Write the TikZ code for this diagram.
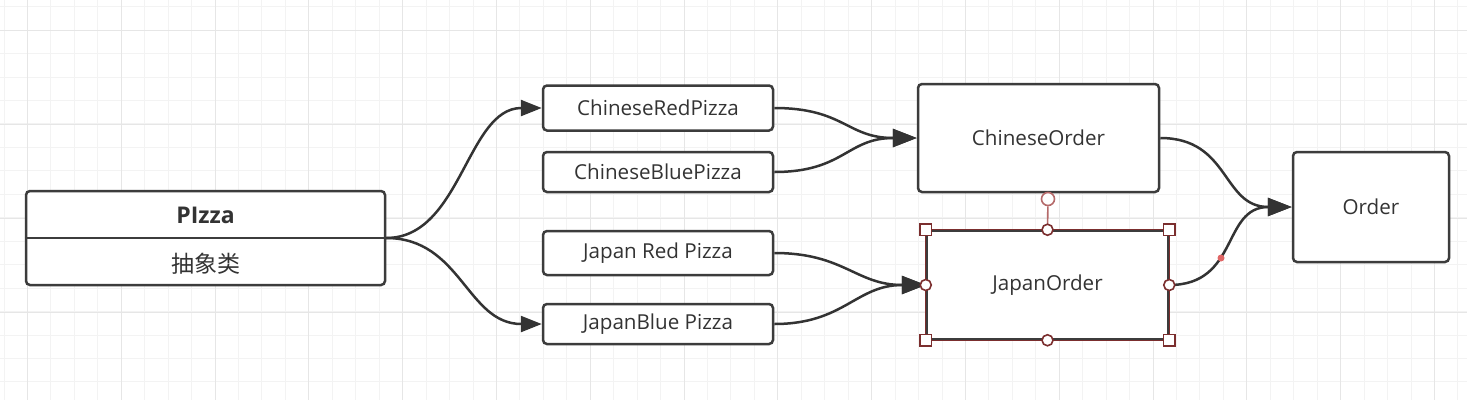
\documentclass[tikz,border=0pt]{standalone}
\usepackage{fontspec}
\setmainfont{Open Sans}
\newfontfamily\cjk{Noto Sans CJK SC}
\usetikzlibrary{arrows.meta}
\definecolor{boxline}{HTML}{3C3C3C}
\definecolor{txt}{HTML}{333333}
\definecolor{gridminor}{HTML}{F3F3F3}
\definecolor{gridmajor}{HTML}{E6E6E6}
\definecolor{handle}{HTML}{7B2E2E}
\definecolor{rothandle}{HTML}{B56A6A}
\definecolor{reddot}{HTML}{E06666}
\begin{document}
\begin{tikzpicture}
  [x=1pt,y=-1pt,
   box/.style={draw=boxline,line width=2.5pt,rounded corners=4pt,fill=white,
     inner sep=0pt,text=txt,font=\fontsize{20.6}{24}\selectfont},
   label/.style={inner sep=0pt,text=txt},
   edge/.style={draw=txt,line width=2.5pt,-{Triangle[length=24pt,width=18pt]}},
   handlesq/.style={draw=handle,fill=white,line width=1.6pt,minimum size=11.5pt,inner sep=0pt},
   handledot/.style={circle,draw=handle,fill=white,line width=1.6pt,minimum size=11pt,inner sep=0pt}]
  \useasboundingbox (0,0) rectangle (1467,400);
  \fill[white] (0,0) rectangle (1467,400);
  % grid
  \foreach \i in {0,...,62}
    \draw[gridminor,line width=1pt] ({4+23.45*\i},0) -- ({4+23.45*\i},400);
  \foreach \j in {0,...,16}
    \draw[gridminor,line width=1pt] (0,{6.7+23.45*\j}) -- (1467,{6.7+23.45*\j});
  \foreach \i in {0,...,15}
    \draw[gridmajor,line width=1pt] ({27.4+93.8*\i},0) -- ({27.4+93.8*\i},400);
  \foreach \j in {0,...,3}
    \draw[gridmajor,line width=1pt] (0,{30.7+93.8*\j}) -- (1467,{30.7+93.8*\j});

  \node[box,minimum width=359pt,minimum height=94pt] (pizza) at (205.5,238) {};
  \draw[boxline,line width=2.5pt] (pizza.west) -- (pizza.east);
  \node[label,font=\fontsize{23}{26}\selectfont\bfseries] (pizzaname) at (205.5,215) {PIzza};
  \node[label,font=\cjk\fontsize{23}{26}\selectfont] (pizzakind) at (205.5,264) {抽象类};

  \node[box,minimum width=230pt,minimum height=45pt] (crp) at (658,108) {ChineseRedPizza};
  \node[box,minimum width=230pt,minimum height=40pt] (cbp) at (658,172) {ChineseBluePizza};
  \node[box,minimum width=230pt,minimum height=44pt] (jrp) at (658,253) {Japan Red Pizza};
  \node[box,minimum width=230pt,minimum height=40pt] (jbp) at (658,324) {JapanBlue Pizza};

  \node[box,minimum width=241pt,minimum height=108pt] (chorder) at (1038.5,138) {ChineseOrder};
  \node[box,rounded corners=0pt,minimum width=241pt,minimum height=108pt] (jporder) at (1047.5,285) {JapanOrder};
  \node[box,minimum width=156pt,minimum height=110pt] (order) at (1371,207) {Order};

  \foreach \from/\to in {pizza/crp,pizza/jbp}
    \draw[edge,-{Triangle[length=21pt,width=16pt]}] (\from.east) .. controls +(75,0) and +(-75,0) .. (\to.west);
  \foreach \from/\to in {crp/chorder,cbp/chorder,jrp/jporder,jbp/jporder,chorder/order,jporder/order}
    \draw[edge] (\from.east) .. controls +(70,0) and +(-70,0) .. (\to.west);

  % selection handles
  \draw[handle,line width=1.2pt] (jporder.north west) rectangle (jporder.south east);
  \node[circle,draw=rothandle,fill=white,line width=1.6pt,minimum size=13pt,inner sep=0pt] (rot) at (1048,199) {};
  \draw[rothandle,line width=1.6pt] (rot) -- (jporder.north);
  \foreach \a in {north west,north east,south west,south east}
    \node[handlesq] at (jporder.\a) {};
  \foreach \a in {north,south,west,east}
    \node[handledot] at (jporder.\a) {};
  \fill[reddot] (1221,258) circle (3.5pt);
\end{tikzpicture}
\end{document}
